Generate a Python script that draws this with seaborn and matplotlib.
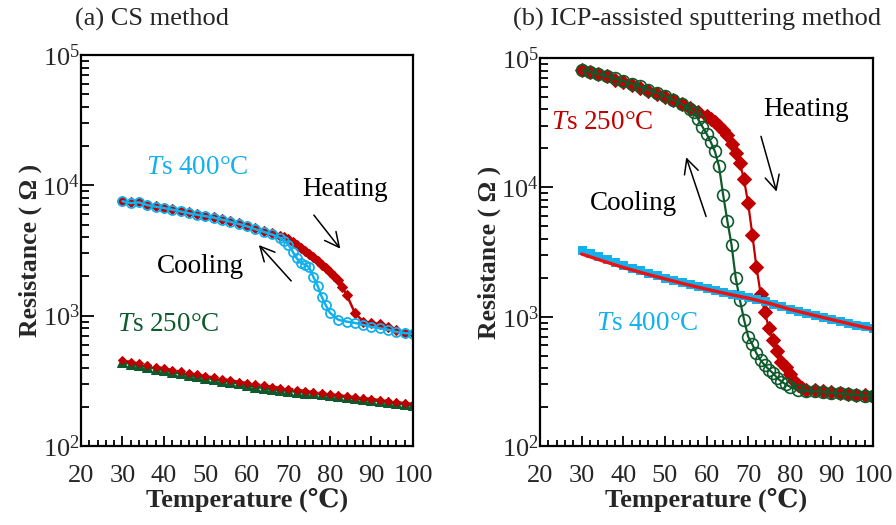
import numpy as np
import pandas as pd
import seaborn as sns
import matplotlib
matplotlib.use("Agg")
import matplotlib.pyplot as plt
from matplotlib.ticker import FixedLocator, LogLocator, NullFormatter, MultipleLocator

# ---------------- data ----------------
# (a) CS method, Ts 400 C
a400_heat_T = [30, 32, 34, 36, 38, 40, 42, 44, 46, 48, 50, 52, 54, 56, 58, 60, 62, 64, 66, 68, 69, 70,
               71, 72, 73, 74, 75, 76, 77, 78, 79, 80, 81, 82, 83, 84, 86, 88, 90, 92, 94, 96, 98, 100]
a400_heat_R = [7600, 7400, 7500, 7100, 6900, 6750, 6600, 6400, 6200, 6000, 5850, 5700, 5500, 5300, 5100,
               4900, 4700, 4500, 4300, 4100, 4000, 3900, 3700, 3500, 3320, 3150, 2980, 2800, 2620, 2450,
               2300, 2150, 2000, 1870, 1650, 1450, 1050, 900, 880, 860, 820, 770, 740, 730]
a400_cool_T = [30, 32, 34, 36, 38, 40, 42, 44, 46, 48, 50, 52, 54, 56, 58, 60, 62, 64, 66, 68, 69, 70,
               71, 72, 73, 74, 75, 76, 77, 78, 79, 80, 82, 84, 86, 88, 90, 92, 94, 96, 98, 100]
a400_cool_R = [7550, 7300, 7400, 7050, 6850, 6700, 6500, 6300, 6100, 5950, 5800, 5650, 5450, 5250, 5050,
               4850, 4600, 4400, 4200, 3950, 3750, 3500, 3100, 2750, 2550, 2450, 2350, 1980, 1700, 1400,
               1200, 1050, 930, 900, 880, 850, 820, 800, 780, 750, 735, 725]
# (a) CS method, Ts 250 C
a250_T = [30, 32, 34, 36, 38, 40, 42, 44, 46, 48, 50, 52, 54, 56, 58, 60, 62, 64, 66, 68, 70, 72, 74,
          76, 78, 80, 82, 84, 86, 88, 90, 92, 94, 96, 98, 100]
a250_heat_R = [455, 442, 430, 418, 406, 395, 384, 373, 363, 354, 345, 336, 328, 320, 312, 305, 298, 292,
               286, 281, 276, 270, 265, 260, 255, 250, 246, 242, 238, 234, 230, 226, 222, 218, 214, 211]
a250_cool_R = [440, 428, 416, 404, 393, 382, 371, 361, 351, 342, 334, 326, 318, 310, 302, 293, 285, 279,
               274, 269, 265, 261, 257, 253, 249, 245, 241, 237, 233, 229, 225, 221, 217, 213, 209, 206]

# (b) ICP-assisted sputtering, Ts 250 C
b250_heat_T = [30, 32, 34, 36, 38, 40, 42, 44, 46, 48, 50, 52, 54, 56, 58, 60, 61, 62, 63, 64, 65, 66,
               67, 68, 69, 70, 71, 72, 73, 74, 75, 76, 77, 78, 79, 80, 81, 82, 83, 84, 86, 88, 90, 92,
               94, 96, 98, 100]
b250_heat_R = [81000, 78000, 75000, 72000, 68000, 65000, 62000, 59000, 56000, 53000, 50000, 47000, 44000,
               41000, 38000, 35500, 34000, 32000, 30000, 28000, 25500, 21500, 18500, 15500, 11500, 7500,
               4300, 2400, 1500, 1080, 810, 660, 540, 450, 410, 360, 320, 295, 280, 272, 270, 266, 262,
               258, 254, 250, 246, 243]
b250_cool_T = [30, 32, 34, 36, 38, 40, 42, 44, 46, 48, 50, 52, 54, 56, 57, 58, 59, 60, 61, 62, 63, 64,
               65, 66, 67, 68, 69, 70, 71, 72, 73, 74, 75, 76, 77, 78, 79, 80, 82, 84, 86, 88, 90, 92,
               94, 96, 98, 100]
b250_cool_R = [81000, 78500, 75500, 72500, 69500, 66500, 63500, 60500, 57000, 54000, 51000, 47500, 44000,
               40500, 38000, 33500, 29500, 26000, 22500, 19000, 14500, 8700, 5500, 3600, 2000, 1350, 950,
               700, 610, 520, 460, 420, 390, 365, 335, 315, 300, 288, 270, 268, 265, 262, 259, 255, 251,
               248, 245, 242]
# (b) ICP-assisted sputtering, Ts 400 C
b400_sq_T = [30, 32, 34, 36, 38, 40, 42, 44, 46, 48, 50, 52, 54, 56, 58, 60, 62, 64, 66, 68, 70, 72, 74,
             76, 78, 80, 82, 84, 86, 88, 90, 92, 94, 96, 98, 100]
b400_sq_R = [3250, 3080, 2930, 2780, 2640, 2510, 2390, 2280, 2180, 2090, 2000, 1930, 1860, 1790, 1720,
             1660, 1610, 1560, 1510, 1460, 1410, 1360, 1310, 1260, 1200, 1150, 1110, 1070, 1030, 990,
             955, 925, 895, 865, 840, 815]
b400_line_T = [30, 35, 40, 45, 50, 55, 60, 65, 70, 75, 80, 85, 90, 95, 100]
b400_line_R = [3050, 2700, 2400, 2160, 1960, 1780, 1630, 1500, 1390, 1270, 1140, 1040, 950, 870, 800]

x_ticks = [20, 30, 40, 50, 60, 70, 80, 90, 100]
y_ticks = [1e2, 1e3, 1e4, 1e5]
y_ticklabels = [r"$10^{2}$", r"$10^{3}$", r"$10^{4}$", r"$10^{5}$"]

# ---------------- style ----------------
sns.set_style("ticks")
plt.rcParams["font.family"] = ["Liberation Serif", "DejaVu Serif", "Noto Sans CJK JP"]
plt.rcParams["mathtext.fontset"] = "custom"
plt.rcParams["mathtext.rm"] = "Liberation Serif"
plt.rcParams["mathtext.it"] = "Liberation Serif:italic"
plt.rcParams["mathtext.bf"] = "Liberation Serif:bold"

RED = "#C00000"
CYAN = "#12B0EC"
GREEN = "#0E5A2C"

fig = plt.figure(figsize=(8.96, 5.25), dpi=100)
axA = fig.add_axes([0.0904, 0.1505, 0.3705, 0.7448])
axB = fig.add_axes([0.6027, 0.1505, 0.3717, 0.7390])


def style_axis(ax):
    ax.set_yscale("log")
    ax.set_xlim(20, 100)
    ax.set_ylim(1e2, 1e5)
    ax.xaxis.set_major_locator(FixedLocator(x_ticks))
    ax.xaxis.set_minor_locator(MultipleLocator(2))
    ax.set_xticklabels([str(t) for t in x_ticks])
    ax.yaxis.set_major_locator(FixedLocator(y_ticks))
    ax.set_yticklabels(y_ticklabels)
    ax.yaxis.set_minor_locator(LogLocator(base=10, subs=np.arange(2, 10)))
    ax.yaxis.set_minor_formatter(NullFormatter())
    ax.tick_params(axis="both", which="both", direction="in", top=False, right=False,
                   labelsize=19, width=1.3, color="black")
    ax.tick_params(axis="x", which="major", length=7, pad=14)
    ax.tick_params(axis="x", which="minor", length=4)
    ax.tick_params(axis="y", which="major", length=9, pad=1)
    ax.tick_params(axis="y", which="minor", length=6)
    for s in ax.spines.values():
        s.set_linewidth(1.6)
        s.set_color("black")
        s.set_visible(True)
    ax.set_xlabel("Temperature (℃)", fontsize=19, fontweight="bold", labelpad=0)
    ax.set_ylabel("Resistance ( Ω )", fontsize=18.5, fontweight="bold", labelpad=0)
    ax.grid(False)


# ---------------- panel (a) ----------------
sns.lineplot(x=a400_heat_T, y=a400_heat_R, ax=axA, color=RED, lw=1.8, marker="D", markersize=5,
             markeredgecolor=RED, markerfacecolor=RED, sort=False)
sns.lineplot(x=a400_cool_T, y=a400_cool_R, ax=axA, color=CYAN, lw=1.8, marker="o", markersize=6.5,
             markeredgecolor=CYAN, markerfacecolor="none", markeredgewidth=1.3, sort=False)
sns.lineplot(x=a250_T, y=a250_cool_R, ax=axA, color=GREEN, lw=2.0, marker="^", markersize=7.5,
             markeredgecolor=GREEN, markerfacecolor=GREEN, sort=False)
sns.lineplot(x=a250_T, y=a250_heat_R, ax=axA, color=RED, lw=1.5, linestyle="--", marker="D",
             markersize=4.5, markeredgecolor=RED, markerfacecolor=RED, sort=False)
style_axis(axA)

axA.text(48.0, 13800, r"$\mathit{T}$s 400°C", color=CYAN, fontsize=19.5, ha="center", va="center")
axA.text(41.0, 850, r"$\mathit{T}$s 250°C", color=GREEN, fontsize=19.5, ha="center", va="center")
axA.text(83.6, 9230, "Heating", color="black", fontsize=19.5, ha="center", va="center")
axA.text(48.7, 2365, "Cooling", color="black", fontsize=19.5, ha="center", va="center")
axA.annotate("", xy=(82.9, 3140), xytext=(75.7, 6140),
             arrowprops=dict(arrowstyle="->", lw=1.1, color="black", mutation_scale=26))
axA.annotate("", xy=(62.4, 3610), xytext=(71.1, 1780),
             arrowprops=dict(arrowstyle="->", lw=1.1, color="black", mutation_scale=26))
fig.text(75 / 896, 1 - 19 / 525, "(a) CS method", fontsize=19, ha="left", va="center")

# ---------------- panel (b) ----------------
sns.lineplot(x=b250_heat_T, y=b250_heat_R, ax=axB, color=RED, lw=1.6, marker="D", markersize=7,
             markeredgecolor=RED, markerfacecolor=RED, sort=False)
sns.lineplot(x=b250_cool_T, y=b250_cool_R, ax=axB, color=GREEN, lw=1.6, marker="o", markersize=8.5,
             markeredgecolor=GREEN, markerfacecolor="none", markeredgewidth=1.2, sort=False)
sns.lineplot(x=b400_sq_T, y=b400_sq_R, ax=axB, color=CYAN, lw=0, marker="s", markersize=6,
             markeredgecolor=CYAN, markerfacecolor=CYAN, sort=False)
sns.lineplot(x=b400_line_T, y=b400_line_R, ax=axB, color="#F01010", lw=2.4, sort=False)
style_axis(axB)

axB.text(34.9, 31600, r"$\mathit{T}$s 250°C", color=RED, fontsize=19.5, ha="center", va="center")
axB.text(45.7, 884, r"$\mathit{T}$s 400°C", color=CYAN, fontsize=19.5, ha="center", va="center")
axB.text(83.9, 39800, "Heating", color="black", fontsize=19.5, ha="center", va="center")
axB.text(42.4, 7530, "Cooling", color="black", fontsize=19.5, ha="center", va="center")
axB.annotate("", xy=(77.0, 8830), xytext=(72.9, 26000),
             arrowprops=dict(arrowstyle="->", lw=1.1, color="black", mutation_scale=26))
axB.annotate("", xy=(54.9, 17900), xytext=(60.1, 5680),
             arrowprops=dict(arrowstyle="->", lw=1.1, color="black", mutation_scale=26))
fig.text(513 / 896, 1 - 19 / 525, "(b) ICP-assisted sputtering method", fontsize=19, ha="left",
         va="center")

fig.savefig("out.png", dpi=100)
